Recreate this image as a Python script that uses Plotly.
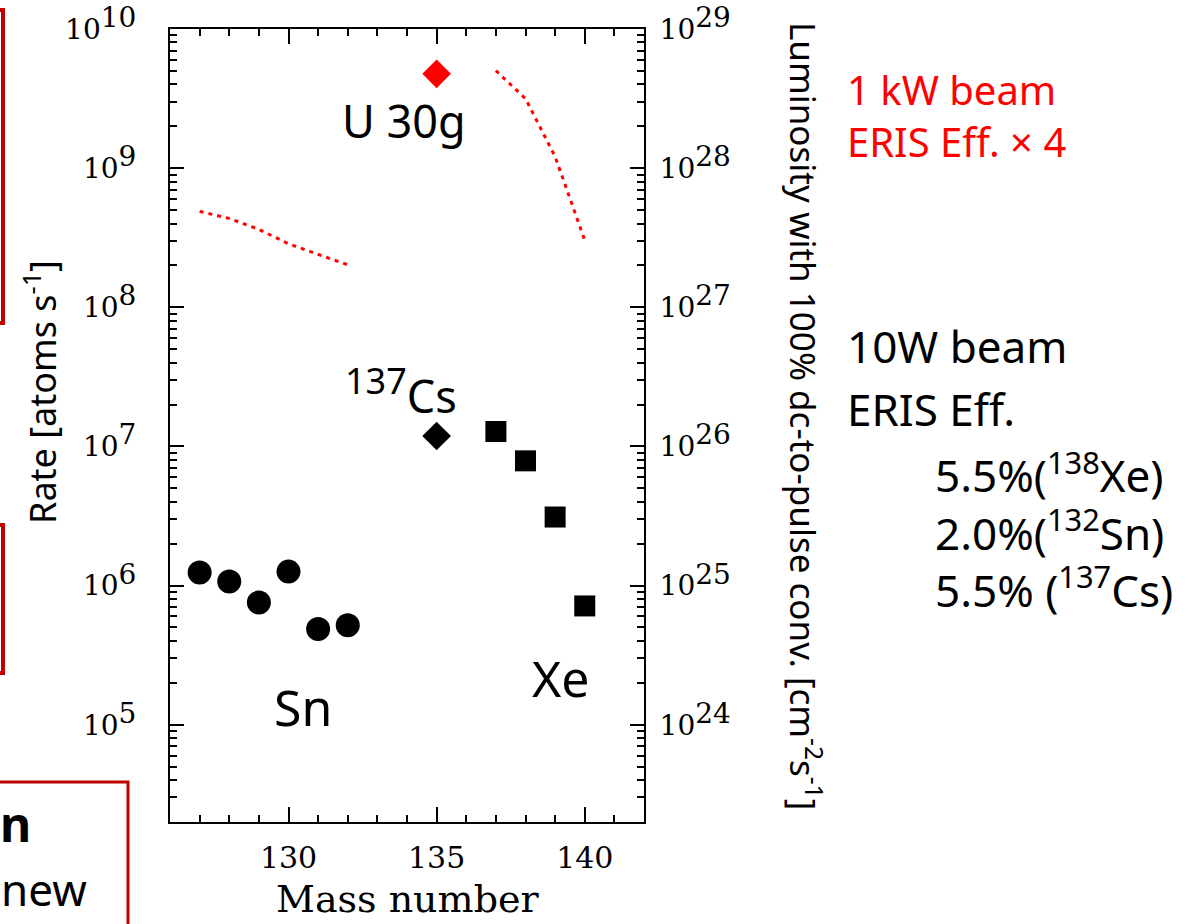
import plotly.graph_objects as go

# ---------------- data ----------------
sn_mass = [127, 128, 129, 130, 131, 132]
sn_rate = [1.24e6, 1.07e6, 7.55e5, 1.26e6, 4.87e5, 5.19e5]

cs_mass = [135]
cs_rate = [1.19e7]

xe_mass = [137, 138, 139, 140]
xe_rate = [1.28e7, 7.88e6, 3.11e6, 7.14e5]

u_mass = [135]
u_rate = [4.76e9]

kw_sn_mass = [127, 128, 129, 130, 131, 132]
kw_sn_rate = [4.89e8, 4.35e8, 3.63e8, 2.86e8, 2.40e8, 2.02e8]

kw_xe_mass = [137, 138, 139, 140]
kw_xe_rate = [5.02e9, 3.16e9, 1.21e9, 3.03e8]

x_ticks = [130, 135, 140]
y_exps = [5, 6, 7, 8, 9, 10]
y2_exps = [24, 25, 26, 27, 28, 29]

# ---------------- layout geometry (pixels) ----------------
W, H = 1196, 924
L, R, T, B = 170, 644, 29, 822
PW, PH = R - L, B - T


def px(x):
    return (x - L) / PW


def py(y):
    return (B - y) / PH


SANS = "Noto Sans"
SERIF = "DejaVu Serif"
RED = "#FF0000"
DARKRED = "#C00000"

fig = go.Figure()

fig.add_trace(go.Scatter(x=kw_sn_mass, y=kw_sn_rate, mode="lines",
                         line=dict(color=RED, width=3, dash="4px,5px"),
                         showlegend=False, hoverinfo="skip"))
fig.add_trace(go.Scatter(x=kw_xe_mass, y=kw_xe_rate, mode="lines",
                         line=dict(color=RED, width=3, dash="4px,5px"),
                         showlegend=False, hoverinfo="skip"))
fig.add_trace(go.Scatter(x=sn_mass, y=sn_rate, mode="markers",
                         marker=dict(symbol="circle", size=24, color="black"),
                         showlegend=False))
fig.add_trace(go.Scatter(x=cs_mass, y=cs_rate, mode="markers",
                         marker=dict(symbol="diamond", size=22, color="black"),
                         showlegend=False))
fig.add_trace(go.Scatter(x=xe_mass, y=xe_rate, mode="markers",
                         marker=dict(symbol="square", size=21, color="black"),
                         showlegend=False))
fig.add_trace(go.Scatter(x=u_mass, y=u_rate, mode="markers",
                         marker=dict(symbol="diamond", size=22, color=RED),
                         showlegend=False))
# empty trace to instantiate the right-hand luminosity axis
fig.add_trace(go.Scatter(x=[], y=[], yaxis="y2", showlegend=False))


def pow_label(e, size):
    return f"10<sup><span style='font-size:{size}px'>{e}</span></sup>"


minor_y = [float(k) * 10.0 ** n for n in range(4, 10) for k in range(2, 10)]
minor_y2 = [float(k) * 10.0 ** n for n in range(23, 29) for k in range(2, 10)]

axis_common = dict(showline=True, linecolor="black", linewidth=2,
                   ticks="inside", tickcolor="black", tickwidth=1.5,
                   showgrid=False, zeroline=False, automargin=False)

fig.update_layout(
    width=W, height=H,
    margin=dict(l=L, r=W - R, t=T, b=H - B, pad=0, autoexpand=False),
    paper_bgcolor="white", plot_bgcolor="white",
    showlegend=False,
    xaxis=dict(range=[126, 142], tickvals=x_ticks,
               ticktext=[str(v) for v in x_ticks], ticklen=15,
               mirror="ticks",
               minor=dict(ticks="inside", ticklen=7, dtick=1, tick0=126,
                          tickcolor="black", tickwidth=1.5),
               tickfont=dict(family=SERIF, size=30, color="black"),
               ticklabelstandoff=8,
               **axis_common),
    yaxis=dict(type="log", range=[4.301, 10],
               tickvals=[10.0 ** e for e in y_exps],
               ticktext=[pow_label(e, 28) for e in y_exps],
               ticklen=14,
               minor=dict(ticks="inside", ticklen=7, tickvals=minor_y,
                          tickcolor="black", tickwidth=1.5),
               tickfont=dict(family=SERIF, size=28, color="black"),
               ticklabelstandoff=26,
               **axis_common),
    yaxis2=dict(type="log", range=[23.301, 29], overlaying="y", side="right",
                anchor="x",
                tickvals=[10.0 ** e for e in y2_exps],
                ticktext=[pow_label(e, 28) for e in y2_exps],
                ticklen=14,
                minor=dict(ticks="inside", ticklen=7, tickvals=minor_y2,
                           tickcolor="black", tickwidth=1.5),
                tickfont=dict(family=SERIF, size=28, color="black"),
                ticklabelstandoff=8,
                **axis_common),
)

annotations = []
ASC, DESC = 1.069, 0.293


def text(t, x, baseline, size, color="black", anchor="left", family=SANS):
    # place by first-line baseline using the font's ascent
    annotations.append(dict(
        text=t, x=px(x), y=py(baseline - ASC * size),
        xref="paper", yref="paper", xanchor=anchor, yanchor="top",
        align="left", showarrow=False,
        font=dict(family=family, size=size, color=color)))


text("U 30g", 404, 136, 45, anchor="center")
text("<sup><span style='font-size:36px'>137</span></sup>Cs", 343, 402, 45)
text("Sn", 272, 724, 50)
text("Xe", 530, 695, 50)
text("1 kW beam<br>ERIS Eff. × 4", 845, 103, 40, color=RED)
text("10W beam", 845, 361, 44)
text("ERIS Eff.", 845, 424, 44)
text("5.5%(<sup>138</sup>Xe)<br>2.0%(<sup>132</sup>Sn)<br>5.5% (<sup>137</sup>Cs)",
     933, 486, 44)
text("<b>n</b>", 33, 840, 48, anchor="right")
text("new", 89, 904, 44, anchor="right")

# axis titles
annotations.append(dict(
    text="Rate [atoms s<sup>-1</sup>]", x=px(40), y=py(392),
    xref="paper", yref="paper", xanchor="center", yanchor="middle",
    textangle=-90, showarrow=False,
    font=dict(family=SANS, size=36, color="black")))
annotations.append(dict(
    text="Luminosity with 100% dc-to-pulse conv. [cm<sup>-2</sup>s<sup>-1</sup>]",
    x=px(806), y=py(416),
    xref="paper", yref="paper", xanchor="center", yanchor="middle",
    textangle=90, showarrow=False,
    font=dict(family=SANS, size=35, color="black")))
annotations.append(dict(
    text="Mass number", x=px(407), y=py(899),
    xref="paper", yref="paper", xanchor="center", yanchor="middle",
    showarrow=False, font=dict(family=SERIF, size=38, color="black")))

fig.update_layout(annotations=annotations)

# red frames of the surrounding slide
shapes = [
    dict(x0=-60, x1=3, y0=10, y1=323, w=4),
    dict(x0=-60, x1=3, y0=525, y1=673, w=4),
    dict(x0=-60, x1=128, y0=782, y1=960, w=3),
]
for s in shapes:
    fig.add_shape(type="rect", xref="paper", yref="paper",
                  x0=px(s["x0"]), x1=px(s["x1"]), y0=py(s["y1"]), y1=py(s["y0"]),
                  line=dict(color=DARKRED, width=s["w"]), fillcolor="rgba(0,0,0,0)",
                  layer="above")

fig.write_html("out.html")
